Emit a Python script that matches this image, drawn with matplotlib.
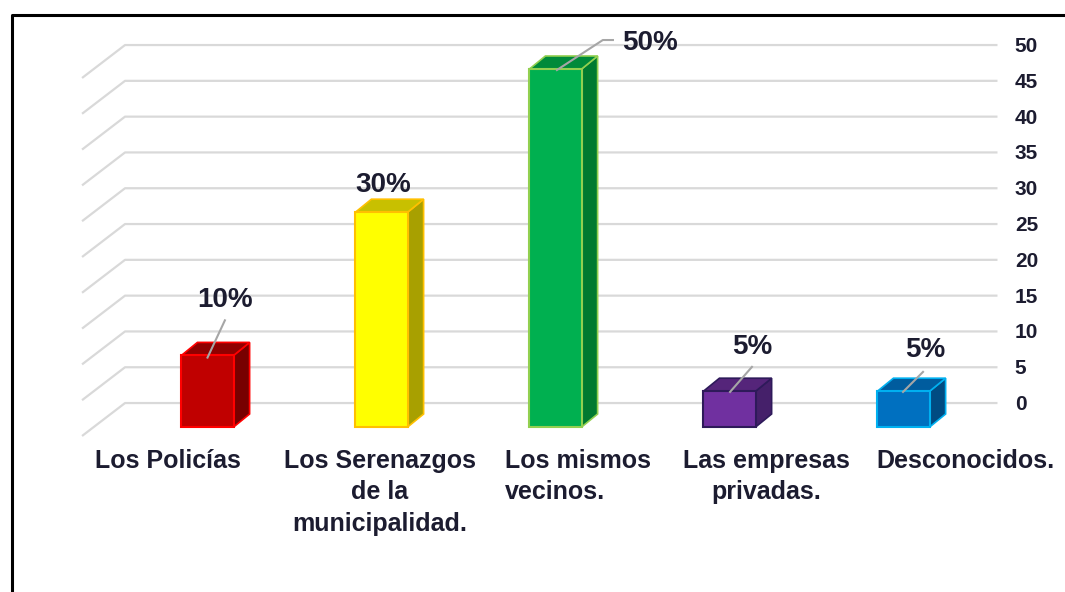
import matplotlib
matplotlib.use('Agg')
import matplotlib.pyplot as plt
from matplotlib.patches import Rectangle, Polygon
from matplotlib.lines import Line2D

plt.rcParams['font.family'] = ['Liberation Sans', 'DejaVu Sans']

categories = ['Los Policías', 'Los Serenazgos\nde la\nmunicipalidad.', 'Los mismos\nvecinos.',
              'Las empresas\nprivadas.', 'Desconocidos.']
values = [10, 30, 50, 5, 5]
labels = ['10%', '30%', '50%', '5%', '5%']
ticks = [0, 5, 10, 15, 20, 25, 30, 35, 40, 45, 50]

front = ['#C00000', '#FFFF00', '#00B050', '#7030A0', '#0070C0']
side = ['#780000', '#A8A000', '#007A30', '#45206A', '#004B82']
top = ['#900000', '#C8C000', '#008A3A', '#55257A', '#005C9E']
edge = ['#FF0000', '#FFC000', '#92D050', '#2E1A5A', '#00B0F0']

txt = '#1c1c30'
grid_c = '#D9D9D9'

fig = plt.figure(figsize=(10.65, 5.92), dpi=100)
ax = fig.add_axes([0, 0, 1, 1])
ax.set_xlim(-1.1925, 4.928)
ax.set_ylim(-23.04, 59.64)
ax.axis('off')

# 3d look
w = 0.3
dx, dy = 0.092, 1.82
wall_dy = 3.35
wall_x0, wall_x1 = -0.474, 4.54
diag_dx, diag_dy = -0.247, -4.6

for t in ticks:
    yy = t + wall_dy
    ax.plot([wall_x0 + diag_dx, wall_x0, wall_x1], [yy + diag_dy, yy, yy],
            color=grid_c, lw=1.6, zorder=1, solid_capstyle='butt')
    ax.text(4.64, yy - 0.2, str(t), ha='left', va='center', fontsize=15,
            fontweight='bold', color=txt)

for i, v in enumerate(values):
    x0, x1 = i - w / 2, i + w / 2
    ax.add_patch(Polygon([(x1, 0), (x1 + dx, dy), (x1 + dx, v + dy), (x1, v)],
                         closed=True, fc=side[i], ec=edge[i], lw=1.2, zorder=3))
    ax.add_patch(Polygon([(x0, v), (x0 + dx, v + dy), (x1 + dx, v + dy), (x1, v)],
                         closed=True, fc=top[i], ec=edge[i], lw=1.2, zorder=3))
    ax.add_patch(Rectangle((x0, 0), w, v, fc=front[i], ec=edge[i], lw=1.5, zorder=4))

# data labels with leader lines
lead = '#A6A6A6'
ax.plot([0.0, 0.10], [values[0] - 0.3, values[0] + 4.9], color=lead, lw=1.5, zorder=5)
ax.text(0.10, values[0] + 7.7, labels[0], ha='center', va='center', fontsize=20,
        fontweight='bold', color=txt)
ax.text(1.008, values[1] + 3.8, labels[1], ha='center', va='center', fontsize=20,
        fontweight='bold', color=txt)
ax.plot([2.008, 2.272, 2.33], [values[2] - 0.14, values[2] + 4.05, values[2] + 4.05],
        color=lead, lw=1.5, zorder=5)
ax.text(2.543, values[2] + 3.6, labels[2], ha='center', va='center', fontsize=20,
        fontweight='bold', color=txt)
ax.plot([3.003, 3.129], [values[3] - 0.1, values[3] + 3.4], color=lead, lw=1.5, zorder=5)
ax.text(3.129, values[3] + 6.2, labels[3], ha='center', va='center', fontsize=20,
        fontweight='bold', color=txt)
ax.plot([3.997, 4.112], [values[4] - 0.1, values[4] + 2.7], color=lead, lw=1.5, zorder=5)
ax.text(4.124, values[4] + 5.75, labels[4], ha='center', va='center', fontsize=20,
        fontweight='bold', color=txt)

# category labels
cat_x = [-0.227, 0.991, 1.71, 3.21, 4.353]
cat_ha = ['center', 'center', 'left', 'center', 'center']
for i, c in enumerate(categories):
    ax.text(cat_x[i], -3.0, c, ha=cat_ha[i], va='top', multialignment='center' if cat_ha[i] == 'center' else 'left',
            fontsize=18, fontweight='bold', color=txt, linespacing=1.4)

# outer frame
W, H = 1065, 592
fig.add_artist(Line2D([11.5 / W, 11.5 / W, 1.0], [0, 1 - 14.5 / H, 1 - 14.5 / H],
                      transform=fig.transFigure, color='black', lw=2.2))

fig.savefig('out.png', dpi=100)
